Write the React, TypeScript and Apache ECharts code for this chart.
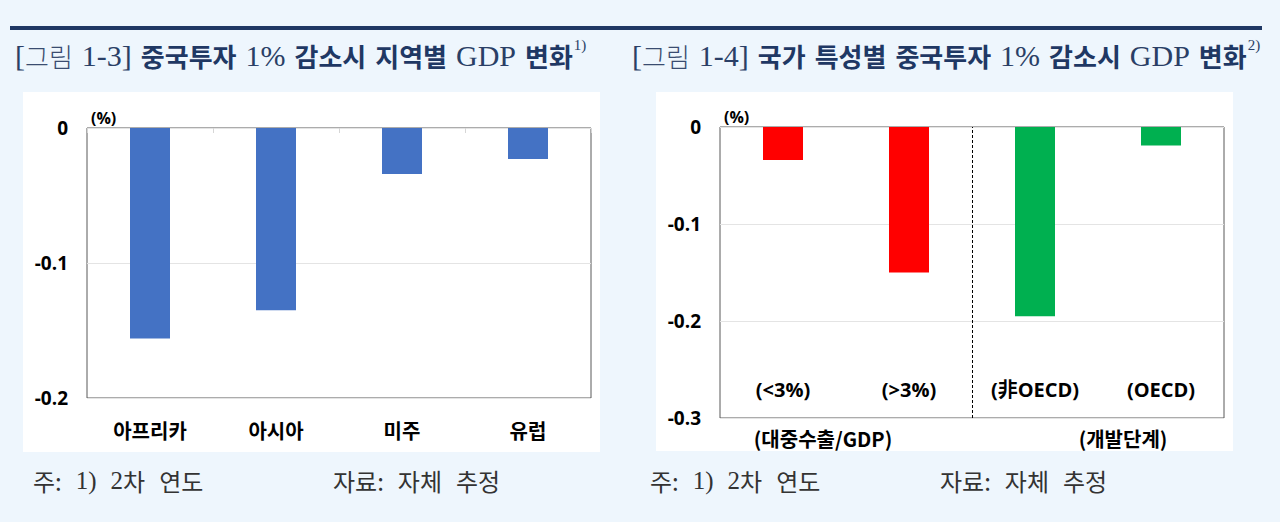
import { useEffect, useRef } from "react";
import * as echarts from "echarts";

// [그림 1-3] 지역별
const REGION_LABELS = ["아프리카", "아시아", "미주", "유럽"];
const REGION_VALUES = [-0.156, -0.135, -0.034, -0.023];
const REGION_Y_MIN = -0.2;

// [그림 1-4] 국가 특성별
const TRAIT_LABELS = ["(<3%)", "(>3%)", "(非OECD)", "(OECD)"];
const TRAIT_VALUES = [-0.034, -0.15, -0.195, -0.019];
const TRAIT_COLORS = ["#ff0000", "#ff0000", "#00b050", "#00b050"];
const TRAIT_GROUPS = ["(대중수출/GDP)", "(개발단계)"];
const TRAIT_GROUP_SIZES = [2, 2];
const TRAIT_Y_MIN = -0.3;

const Y_STEP = 0.1;
const UNIT = "(%)";

const TITLE_1 = "{n|[}{l|그림} {n|1-3]} {k|중국투자} {n|1%} {k|감소시} {k|지역별} {n|GDP} {k|변화}{sup|1)}";
const TITLE_2 = "{n|[}{l|그림} {n|1-4]} {k|국가} {k|특성별} {k|중국투자} {n|1%} {k|감소시} {n|GDP} {k|변화}{sup|2)}";
const NOTE = "{k|주:}{sp| }{n|1)}{sp| }{n|2}{k|차}{sp| }{k|연도}";
const SOURCE = "{k|자료:}{sp| }{k|자체}{sp| }{k|추정}";

const SANS = "'Noto Sans CJK KR', sans-serif";
const SERIF = "'Liberation Serif', serif";
const NUM = "'Open Sans', 'Noto Sans CJK KR', sans-serif";
const NAVY = "#1f3864";

const TITLE_STYLE = {
  fontFamily: SERIF,
  fontSize: 36,
  fontWeight: "normal",
  color: "#2a3f66",
  rich: {
    l: { fontFamily: SANS, fontSize: 26, fontWeight: 300, color: "#3a4c70" },
    n: { fontFamily: SERIF, fontSize: 30, fontWeight: "normal", color: "#2a3f66" },
    k: { fontFamily: SANS, fontSize: 26, fontWeight: "bold", color: NAVY },
    sup: { fontFamily: SERIF, fontSize: 15, fontWeight: "normal", color: "#2a3f66", verticalAlign: "top", padding: [0, 0, 16, 1] },
  },
};

const NOTE_STYLE = {
  fontFamily: SANS,
  fontSize: 24,
  fontWeight: "normal",
  color: "#333",
  rich: {
    k: { fontFamily: SANS, fontSize: 24, fontWeight: "normal", color: "#333" },
    n: { fontFamily: SERIF, fontSize: 25, fontWeight: "normal", color: "#333" },
    sp: { fontFamily: SERIF, fontSize: 24, fontWeight: "normal", padding: [0, 4, 0, 4] },
  },
};

const yLabel = (v: number) => (v === 0 ? "0" : v.toFixed(1));

function valueAxis(gridIndex: number, min: number) {
  return {
    type: "value",
    gridIndex,
    min,
    max: 0,
    interval: Y_STEP,
    name: UNIT,
    nameLocation: "end",
    nameGap: 2,
    nameTextStyle: {
      fontFamily: NUM,
      fontSize: 16,
      fontWeight: "bold",
      color: "#000",
      align: "left",
      verticalAlign: "bottom",
      padding: [0, 0, 0, 4],
    },
    axisLine: { show: false },
    axisTick: { show: false },
    axisLabel: { formatter: yLabel, fontFamily: NUM, fontSize: 19, fontWeight: "bold", color: "#000", margin: 19 },
    splitLine: { lineStyle: { color: "#e4e4e4", width: 1 } },
  };
}

function groupLabel(text: string, x: number) {
  return {
    type: "text",
    x,
    y: 438,
    style: {
      text,
      font: `bold 20px ${SANS}`,
      fill: "#000",
      align: "center",
      verticalAlign: "middle",
    },
  };
}

export default function App() {
  const chartRef = useRef<HTMLDivElement>(null);

  useEffect(() => {
    if (!chartRef.current) return;
    const chart = echarts.init(chartRef.current, null, { renderer: "svg" });

    chart.setOption({
      animation: false,
      backgroundColor: "#eef6fd",
      title: [
        { text: TITLE_1, left: 10, top: 32, textStyle: TITLE_STYLE },
        { text: TITLE_2, left: 627, top: 32, textStyle: TITLE_STYLE },
        { text: NOTE, left: 28, top: 463, textStyle: NOTE_STYLE },
        { text: SOURCE, left: 328, top: 463, textStyle: NOTE_STYLE },
        { text: NOTE, left: 645, top: 463, textStyle: NOTE_STYLE },
        { text: SOURCE, left: 935, top: 463, textStyle: NOTE_STYLE },
      ],
      graphic: [
        { type: "rect", z: -10, shape: { x: 10, y: 26, width: 1252, height: 4 }, style: { fill: NAVY } },
        { type: "rect", z: -10, shape: { x: 23, y: 92, width: 577, height: 360 }, style: { fill: "#fff" } },
        { type: "rect", z: -10, shape: { x: 656, y: 92, width: 577, height: 359 }, style: { fill: "#fff" } },
        groupLabel(TRAIT_GROUPS[0], 823),
        groupLabel(TRAIT_GROUPS[1], 1123),
      ],
      grid: [
        { left: 87, top: 128, width: 504, height: 270, show: true, borderColor: "#595959", borderWidth: 1 },
        { left: 720, top: 127, width: 504, height: 291, show: true, borderColor: "#595959", borderWidth: 1 },
      ],
      xAxis: [
        {
          type: "category",
          gridIndex: 0,
          data: REGION_LABELS,
          position: "bottom",
          axisLine: { show: false },
          axisTick: { show: false },
          axisLabel: { fontFamily: SANS, fontSize: 20, fontWeight: "bold", color: "#000", margin: 22 },
        },
        {
          type: "category",
          gridIndex: 0,
          data: REGION_LABELS,
          position: "top",
          axisLine: { show: false },
          axisTick: { show: true, inside: true, length: 5, lineStyle: { color: "#d6d6d6" } },
          axisLabel: { show: false },
        },
        {
          type: "category",
          gridIndex: 1,
          data: TRAIT_LABELS,
          position: "bottom",
          axisLine: { show: false },
          axisTick: { show: false },
          axisLabel: { inside: true, fontFamily: NUM, fontSize: 20, fontWeight: "bold", color: "#000", margin: 19 },
        },
        {
          // hidden helper axis for the group separator
          type: "value",
          gridIndex: 1,
          min: 0,
          max: TRAIT_LABELS.length,
          show: false,
        },
      ],
      yAxis: [valueAxis(0, REGION_Y_MIN), valueAxis(1, TRAIT_Y_MIN)],
      series: [
        {
          type: "bar",
          xAxisIndex: 0,
          yAxisIndex: 0,
          data: REGION_VALUES,
          barWidth: 40,
          itemStyle: { color: "#4472c4" },
        },
        {
          type: "bar",
          xAxisIndex: 2,
          yAxisIndex: 1,
          data: TRAIT_VALUES.map((v, i) => ({ value: v, itemStyle: { color: TRAIT_COLORS[i] } })),
          barWidth: 40,
        },
        {
          type: "line",
          xAxisIndex: 3,
          yAxisIndex: 1,
          data: [[TRAIT_GROUP_SIZES[0], 0]],
          symbol: "none",
          silent: true,
          markLine: {
            silent: true,
            symbol: "none",
            label: { show: false },
            lineStyle: { color: "#000", type: [3, 2], width: 1 },
            data: [{ xAxis: TRAIT_GROUP_SIZES[0] }],
          },
        },
      ],
    });

    return () => chart.dispose();
  }, []);

  return (
    <div
      ref={chartRef}
      style={{ position: "fixed", left: 0, top: 0, width: "1280px", height: "522px" }}
    />
  );
}
